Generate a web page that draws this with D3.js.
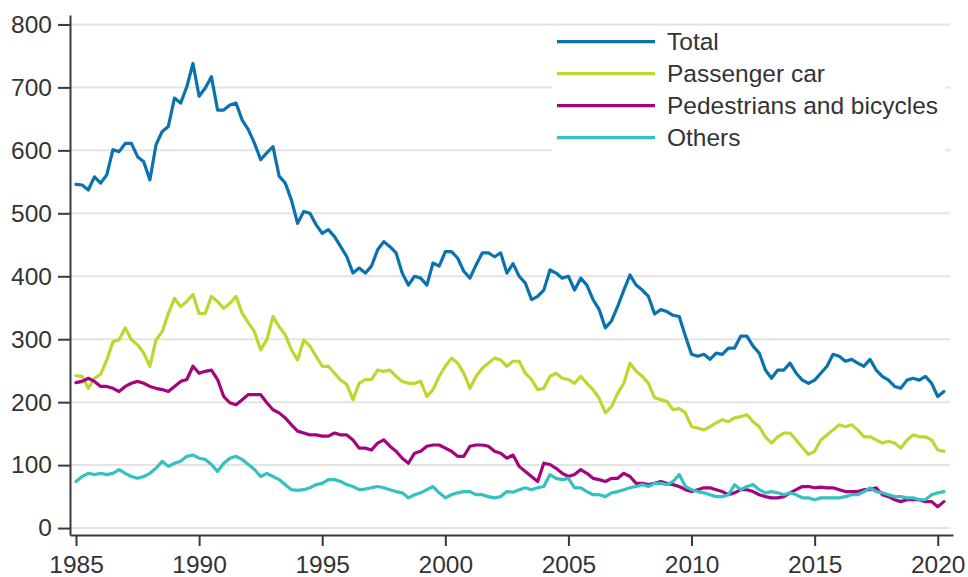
<!DOCTYPE html>
<html>
<head>
<meta charset="utf-8">
<script src="https://cdn.jsdelivr.net/npm/d3@7"></script>
<style>
  html, body { margin: 0; padding: 0; background: #ffffff; }
  svg { display: block; font-family: "Liberation Sans", Arial, sans-serif; }
</style>
</head>
<body>
<svg id="chart" width="968" height="577"></svg>
<script>
// Quarterly readings, starting 1985 Q1
const startYear = 1985;
const perYear = 4;

const seriesNames = ["Total", "Passenger car", "Pedestrians and bicycles", "Others"];
const seriesColors = ["#0a72ae", "#bfd631", "#a3057f", "#33c2bf"];

const total = [
  546, 545, 537, 558,  548, 561, 601, 598,  611, 611, 590, 582,  553, 609, 630, 638,
  683, 675, 701, 738,  686, 699, 717, 664,  664, 672, 675, 648,  633, 611, 585, 596,
  606, 559, 548, 521,  484, 503, 500, 482,  468, 474, 463, 447,  431, 405, 413, 405,
  416, 442, 455, 447,  437, 405, 386, 400,  397, 386, 421, 416,  439, 439, 429, 408,
  397, 418, 437, 437,  431, 437, 405, 420,  400, 389, 363, 368,  378, 410, 405, 397,
  400, 378, 397, 386,  363, 347, 318, 329,  352, 378, 402, 386,  378, 368, 340, 347,
  344, 338, 336, 305,  276, 273, 276, 268,  278, 276, 286, 286,  305, 305, 289, 278,
  251, 238, 251, 251,  262, 246, 235, 230,  235, 246, 257, 276,  273, 265, 268, 262,
  257, 268, 251, 241,  235, 225, 222, 235,  238, 235, 241, 230,  209, 217
];

const passengerCar = [
  242, 241, 222, 238,  244, 267, 296, 299,  318, 299, 291, 278,  257, 299, 312, 341,
  365, 352, 360, 371,  341, 341, 368, 360,  349, 357, 368, 341,  326, 312, 283, 299,
  336, 320, 307, 283,  267, 299, 289, 273,  257, 257, 246, 235,  228, 204, 230, 236,
  236, 251, 249, 251,  241, 233, 230, 230,  233, 209, 220, 241,  257, 270, 262, 246,
  222, 241, 254, 262,  270, 267, 257, 265,  265, 246, 236, 220,  222, 241, 246, 238,
  236, 230, 241, 230,  220, 206, 183, 193,  214, 230, 262, 249,  241, 230, 207, 204,
  201, 188, 190, 183,  161, 159, 156, 161,  167, 172, 169, 175,  177, 180, 169, 161,
  145, 135, 145, 151,  151, 140, 128, 117,  122, 140, 148, 156,  164, 161, 164, 156,
  145, 145, 140, 135,  138, 135, 127, 140,  148, 145, 145, 140,  124, 122
];

const pedestrians = [
  231, 233, 238, 233,  225, 225, 222, 217,  225, 230, 233, 230,  225, 222, 220, 217,
  225, 233, 236, 257,  246, 249, 251, 236,  209, 199, 196, 204,  212, 212, 212, 199,
  188, 183, 175, 164,  154, 151, 148, 148,  146, 146, 151, 148,  148, 140, 127, 127,
  124, 135, 140, 130,  122, 111, 103, 119,  122, 130, 132, 132,  127, 122, 114, 114,
  130, 132, 132, 130,  122, 119, 111, 116,   98,  90,  82,  74,  103, 101,  95,  87,
   82,  85,  93,  87,   79,  77,  74,  79,   79,  87,  82,  71,   71,  69,  71,  74,
   71,  69,  66,  61,   58,  61,  64,  64,   61,  58,  53,  56,   61,  61,  58,  53,
   50,  48,  48,  50,   56,  61,  66,  66,   64,  65,  64,  64,   61,  58,  58,  58,
   61,  61,  64,  53,   50,  45,  42,  45,   45,  45,  42,  42,   34,  42
];

const others = [
   74,  82,  87,  85,   87,  85,  87,  93,   87,  82,  79,  82,   87,  95, 106,  98,
  103, 106, 114, 116,  111, 109, 101,  90,  103, 111, 114, 109,  101,  93,  82,  87,
   82,  77,  69,  61,   60,  61,  64,  69,   71,  77,  77,  74,   69,  66,  61,  62,
   64,  66,  64,  61,   58,  56,  48,  53,   56,  61,  66,  56,   48,  53,  56,  58,
   58,  53,  53,  50,   48,  50,  58,  57,   61,  64,  61,  64,   66,  85,  79,  77,
   79,  64,  64,  58,   53,  53,  50,  56,   58,  61,  64,  66,   69,  66,  71,  71,
   69,  74,  85,  66,   61,  58,  56,  53,   50,  50,  53,  69,   61,  66,  69,  61,
   56,  58,  56,  53,   56,  53,  48,  48,   45,  48,  48,  48,   48,  50,  53,  53,
   58,  64,  58,  56,   53,  50,  50,  48,   48,  45,  45,  53,   56,  58
];

const yearTicks = [1985, 1990, 1995, 2000, 2005, 2010, 2015, 2020];
const valueTicks = [0, 100, 200, 300, 400, 500, 600, 700, 800];

const seriesValues = [total, passengerCar, pedestrians, others];

const svg = d3.select("#chart");

const x = d3.scaleLinear().domain([1984.756, 2020.62]).range([70, 953]);
const y = d3.scaleLinear().domain([-11, 815]).range([535, 15]);

const textColor = "#333333";
const axisColor = "#3a3a3a";
const fontSize = "24.5px";

// Gridlines
svg.append("g")
  .selectAll("line")
  .data(valueTicks)
  .join("line")
  .attr("x1", 70).attr("x2", 950)
  .attr("y1", d => y(d)).attr("y2", d => y(d))
  .attr("stroke", "#e4e4e4")
  .attr("stroke-width", 2);

// Series lines
const line = d3.line()
  .x((d, i) => x(startYear + i / perYear))
  .y(d => y(d));

svg.append("g")
  .selectAll("path")
  .data(seriesValues)
  .join("path")
  .attr("d", d => line(d))
  .attr("fill", "none")
  .attr("stroke", (d, i) => seriesColors[i])
  .attr("stroke-width", 3.2)
  .attr("stroke-linejoin", "round")
  .attr("stroke-linecap", "round");

// Axes
const xAxis = d3.axisBottom(x).tickValues(yearTicks).tickFormat(d3.format("d"))
  .tickSizeInner(11).tickSizeOuter(0).tickPadding(10);
const gx = svg.append("g").attr("transform", "translate(0,535)").call(xAxis);

const yAxis = d3.axisLeft(y).tickValues(valueTicks).tickFormat(d3.format("d"))
  .tickSizeInner(12).tickSizeOuter(0).tickPadding(6);
const gy = svg.append("g").attr("transform", "translate(70,0)").call(yAxis);

[gx, gy].forEach(g => {
  g.select(".domain").attr("stroke", axisColor).attr("stroke-width", 2);
  g.selectAll(".tick line").attr("stroke", axisColor).attr("stroke-width", 2);
  g.selectAll(".tick text")
    .attr("fill", textColor)
    .style("font-size", fontSize)
    .style("font-family", "'Liberation Sans', Arial, sans-serif");
});

// Legend
const legend = svg.append("g");
legend.append("rect")
  .attr("x", 552).attr("y", 27).attr("width", 393).attr("height", 140)
  .attr("fill", "#ffffff");

const legendItems = legend.selectAll("g.item")
  .data(seriesNames)
  .join("g")
  .attr("class", "item")
  .attr("transform", (d, i) => `translate(0,${41.7 + i * 32})`);

legendItems.append("line")
  .attr("x1", 557).attr("x2", 655)
  .attr("y1", 0).attr("y2", 0)
  .attr("stroke", (d, i) => seriesColors[i])
  .attr("stroke-width", 3.2);

legendItems.append("text")
  .attr("x", 667).attr("y", 8)
  .attr("fill", textColor)
  .style("font-size", fontSize)
  .text(d => d);
</script>
</body>
</html>
